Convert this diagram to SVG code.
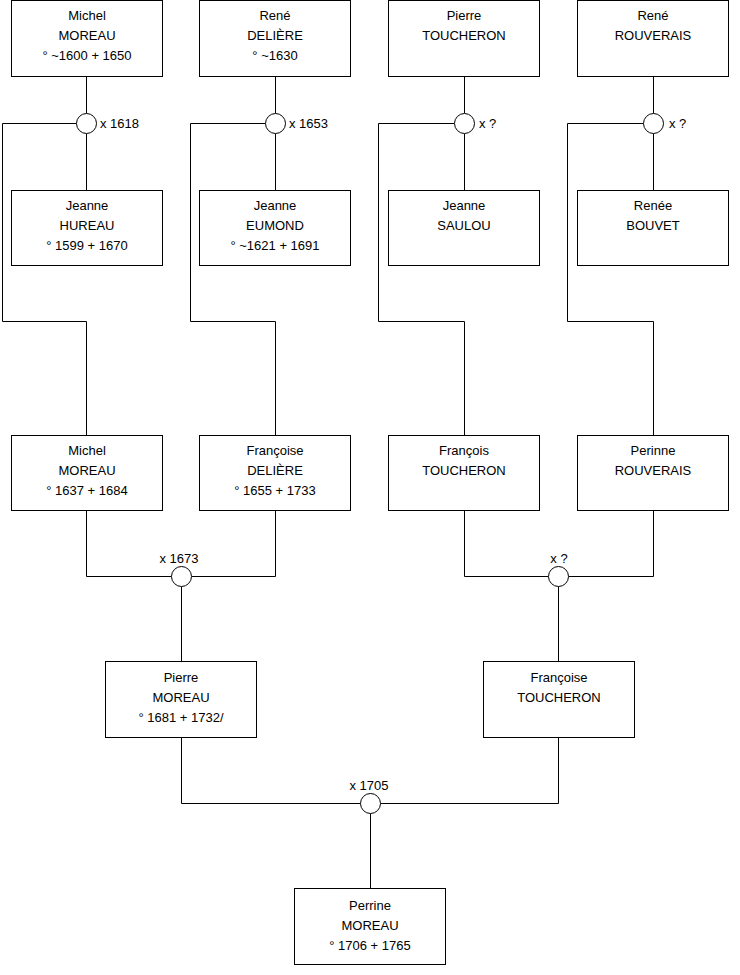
<svg xmlns="http://www.w3.org/2000/svg" width="740" height="975" viewBox="0 0 740 975">
<style>
.box{fill:#fff;stroke:#000;stroke-width:1}
.c{fill:none;stroke:#000;stroke-width:1}
.m{fill:#fff;stroke:#000;stroke-width:1}
text{font-family:"Liberation Sans",Arial,sans-serif;font-size:13px;fill:#000}
.t{text-anchor:middle}
</style>
<rect width="740" height="975" fill="#fff"/>
<g id="connectors">
<path class="c" d="M86.5 76.5V113.5M86.5 133.5V190.5M76.5 123.5H2.5V321.5H86.5V435.5"/>
<path class="c" d="M275.5 76.5V113.5M275.5 133.5V190.5M265.5 123.5H190.5V321.5H275.5V435.5"/>
<path class="c" d="M464.5 76.5V113.5M464.5 133.5V190.5M454.5 123.5H378.5V321.5H464.5V435.5"/>
<path class="c" d="M653.5 76.5V113.5M653.5 133.5V190.5M643.5 123.5H567.5V321.5H653.5V435.5"/>
<path class="c" d="M86.5 510.5V576.5H171.5M191.5 576.5H275.5V510.5M181.5 586.5V661.5"/>
<path class="c" d="M464.5 510.5V576.5H548.5M568.5 576.5H653.5V510.5M558.5 586.5V661.5"/>
<path class="c" d="M181.5 737.5V803.5H360.5M380.5 803.5H558.5V737.5M370.5 813.5V888.5"/>
</g>
<g id="m1618"><circle class="m" cx="86.5" cy="123.5" r="10"/><text x="100" y="128">x 1618</text></g>
<g id="m1653"><circle class="m" cx="275.5" cy="123.5" r="10"/><text x="289" y="128">x 1653</text></g>
<g id="mTS"><circle class="m" cx="464.5" cy="123.5" r="10"/><text x="479" y="128">x ?</text></g>
<g id="mRB"><circle class="m" cx="653.5" cy="123.5" r="10"/><text x="669" y="128">x ?</text></g>
<g id="m1673"><circle class="m" cx="181.5" cy="576.5" r="10"/><text class="t" x="179" y="563">x 1673</text></g>
<g id="mTR"><circle class="m" cx="558.5" cy="576.5" r="10"/><text class="t" x="559" y="563">x ?</text></g>
<g id="m1705"><circle class="m" cx="370.5" cy="803.5" r="10"/><text class="t" x="369" y="790">x 1705</text></g>

<g id="michel-moreau-1600"><rect class="box" x="11.5" y="0.5" width="151" height="76"/>
<text class="t" x="87" y="20">Michel</text><text class="t" x="87" y="40">MOREAU</text><text class="t" x="87" y="60">° ~1600 + 1650</text></g>
<g id="rene-deliere"><rect class="box" x="199.5" y="0.5" width="151" height="76"/>
<text class="t" x="275" y="20">René</text><text class="t" x="275" y="40">DELIÈRE</text><text class="t" x="275" y="60">° ~1630</text></g>
<g id="pierre-toucheron"><rect class="box" x="388.5" y="0.5" width="151" height="76"/>
<text class="t" x="464" y="20">Pierre</text><text class="t" x="464" y="40">TOUCHERON</text></g>
<g id="rene-rouverais"><rect class="box" x="577.5" y="0.5" width="151" height="76"/>
<text class="t" x="653" y="20">René</text><text class="t" x="653" y="40">ROUVERAIS</text></g>

<g id="jeanne-hureau"><rect class="box" x="11.5" y="190.5" width="151" height="75"/>
<text class="t" x="87" y="210">Jeanne</text><text class="t" x="87" y="230">HUREAU</text><text class="t" x="87" y="250">° 1599 + 1670</text></g>
<g id="jeanne-eumond"><rect class="box" x="199.5" y="190.5" width="151" height="75"/>
<text class="t" x="275" y="210">Jeanne</text><text class="t" x="275" y="230">EUMOND</text><text class="t" x="275" y="250">° ~1621 + 1691</text></g>
<g id="jeanne-saulou"><rect class="box" x="388.5" y="190.5" width="151" height="75"/>
<text class="t" x="464" y="210">Jeanne</text><text class="t" x="464" y="230">SAULOU</text></g>
<g id="renee-bouvet"><rect class="box" x="577.5" y="190.5" width="151" height="75"/>
<text class="t" x="653" y="210">Renée</text><text class="t" x="653" y="230">BOUVET</text></g>

<g id="michel-moreau-1637"><rect class="box" x="11.5" y="435.5" width="151" height="75"/>
<text class="t" x="87" y="455">Michel</text><text class="t" x="87" y="475">MOREAU</text><text class="t" x="87" y="495">° 1637 + 1684</text></g>
<g id="francoise-deliere"><rect class="box" x="199.5" y="435.5" width="151" height="75"/>
<text class="t" x="275" y="455">Françoise</text><text class="t" x="275" y="475">DELIÈRE</text><text class="t" x="275" y="495">° 1655 + 1733</text></g>
<g id="francois-toucheron"><rect class="box" x="388.5" y="435.5" width="151" height="75"/>
<text class="t" x="464" y="455">François</text><text class="t" x="464" y="475">TOUCHERON</text></g>
<g id="perinne-rouverais"><rect class="box" x="577.5" y="435.5" width="151" height="75"/>
<text class="t" x="653" y="455">Perinne</text><text class="t" x="653" y="475">ROUVERAIS</text></g>

<g id="pierre-moreau"><rect class="box" x="105.5" y="661.5" width="151" height="76"/>
<text class="t" x="181" y="682">Pierre</text><text class="t" x="181" y="702">MOREAU</text><text class="t" x="181" y="722">° 1681 + 1732/</text></g>
<g id="francoise-toucheron"><rect class="box" x="483.5" y="661.5" width="151" height="76"/>
<text class="t" x="559" y="682">Françoise</text><text class="t" x="559" y="702">TOUCHERON</text></g>

<g id="perrine-moreau"><rect class="box" x="294.5" y="888.5" width="151" height="76"/>
<text class="t" x="370" y="910">Perrine</text><text class="t" x="370" y="930">MOREAU</text><text class="t" x="370" y="950">° 1706 + 1765</text></g>
</svg>
